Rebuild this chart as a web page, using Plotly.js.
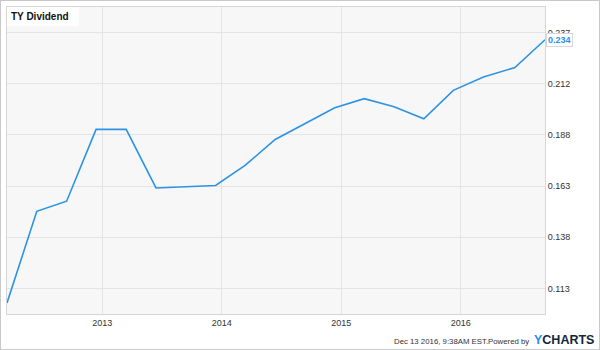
<!DOCTYPE html>
<html>
<head>
<meta charset="utf-8">
<script src="https://cdn.plot.ly/plotly-3.0.1.min.js"></script>
<style>
  html, body { margin: 0; padding: 0; background: #fff; }
  #wrap { position: relative; width: 600px; height: 350px; }
  #chart { position: absolute; left: 0; top: 0; width: 600px; height: 350px; }
  #frame { position: absolute; left: 0; top: 0; width: 600px; height: 350px; box-sizing: border-box; border: 1px solid #c8c8c8; pointer-events: none; }
</style>
</head>
<body>
<div id="wrap">
  <div id="chart"></div>
  <div id="frame"></div>
</div>
<script>
// Dividend payment dates and amounts
const dates = [
  "2012-03-16", "2012-06-15", "2012-09-14", "2012-12-13",
  "2013-03-15", "2013-06-14", "2013-12-13",
  "2014-03-13", "2014-06-13", "2014-12-12",
  "2015-03-12", "2015-06-11", "2015-09-10", "2015-12-09",
  "2016-03-10", "2016-06-14", "2016-09-14"
];
const dividends = [
  0.1054, 0.1502, 0.1551, 0.1902,
  0.1902, 0.1616, 0.1628,
  0.1726, 0.1853, 0.2008,
  0.2052, 0.2013, 0.1954, 0.2093,
  0.2158, 0.2204, 0.234
];
const yTickVals = [0.1125, 0.1375, 0.1625, 0.1875, 0.2125, 0.2375];
const yTickText = ["0.113", "0.138", "0.163", "0.188", "0.212", "0.237"];
const xTickVals = ["2013-01-01", "2014-01-01", "2015-01-01", "2016-01-01"];
const xTickText = ["2013", "2014", "2015", "2016"];
const titleText = "TY Dividend";
const lastLabel = "0.234";
const footerText = "Dec 13 2016, 9:38AM EST.Powered by";

const lineColor = "#2b93e6";
const fontFam = "'Liberation Sans', Arial, sans-serif";

const trace = {
  x: dates,
  y: dividends,
  type: "scatter",
  mode: "lines",
  line: { color: lineColor, width: 1.6 },
  hoverinfo: "skip"
};

const lastIdx = dates.length - 1;

const layout = {
  width: 600,
  height: 350,
  margin: { l: 7, r: 55, t: 7, b: 36, pad: 0 },
  paper_bgcolor: "#ffffff",
  plot_bgcolor: "#f7f7f7",
  showlegend: false,
  font: { family: fontFam, size: 9, color: "#333" },
  xaxis: {
    type: "date",
    range: [dates[0], dates[lastIdx]],
    tickmode: "array",
    tickvals: xTickVals,
    ticktext: xTickText,
    ticks: "",
    showgrid: true,
    gridcolor: "#e4e4e4",
    gridwidth: 1,
    showline: true,
    linecolor: "#d6d6d6",
    linewidth: 1,
    mirror: true,
    zeroline: false,
    tickfont: { family: fontFam, size: 9, color: "#333" },
    fixedrange: true
  },
  yaxis: {
    side: "right",
    range: [0.1, 0.25],
    tickmode: "array",
    tickvals: yTickVals,
    ticktext: yTickText,
    ticks: "",
    showgrid: true,
    gridcolor: "#e4e4e4",
    gridwidth: 1,
    showline: true,
    linecolor: "#d6d6d6",
    linewidth: 1,
    mirror: true,
    zeroline: false,
    tickfont: { family: fontFam, size: 9, color: "#333" },
    fixedrange: true
  },
  annotations: [
    {
      xref: "paper", yref: "paper",
      x: 0.0, y: 1.0,
      xanchor: "left", yanchor: "top",
      text: "<b>" + titleText + "</b>",
      showarrow: false,
      bgcolor: "#ffffff",
      borderpad: 4,
      borderwidth: 0,
      font: { family: fontFam, size: 10, color: "#111" },
      width: 64,
      align: "left"
    },
    {
      xref: "x", yref: "y",
      x: dates[lastIdx], y: dividends[lastIdx],
      xanchor: "left", yanchor: "middle",
      xshift: 1,
      text: "<b>" + lastLabel + "</b>",
      showarrow: false,
      bgcolor: "#ffffff",
      bordercolor: "#d8d8d8",
      borderwidth: 1,
      borderpad: 1,
      font: { family: fontFam, size: 9, color: lineColor }
    },
    {
      xref: "paper", yref: "paper",
      x: (531 - 7) / 538, y: (314 - 341) / 307,
      xanchor: "right", yanchor: "middle",
      text: footerText,
      showarrow: false,
      font: { family: fontFam, size: 7.8, color: "#333" }
    },
    {
      xref: "paper", yref: "paper",
      x: (532 - 7) / 538, y: (314 - 340) / 307,
      xanchor: "left", yanchor: "middle",
      text: "<b><span style=\"color:#1e90ee\">Y</span><span style=\"color:#142638\">CHARTS</span></b>",
      showarrow: false,
      font: { family: fontFam, size: 12.5, color: "#142638" }
    }
  ]
};

Plotly.newPlot("chart", [trace], layout, { displayModeBar: false, staticPlot: true });
</script>
</body>
</html>
